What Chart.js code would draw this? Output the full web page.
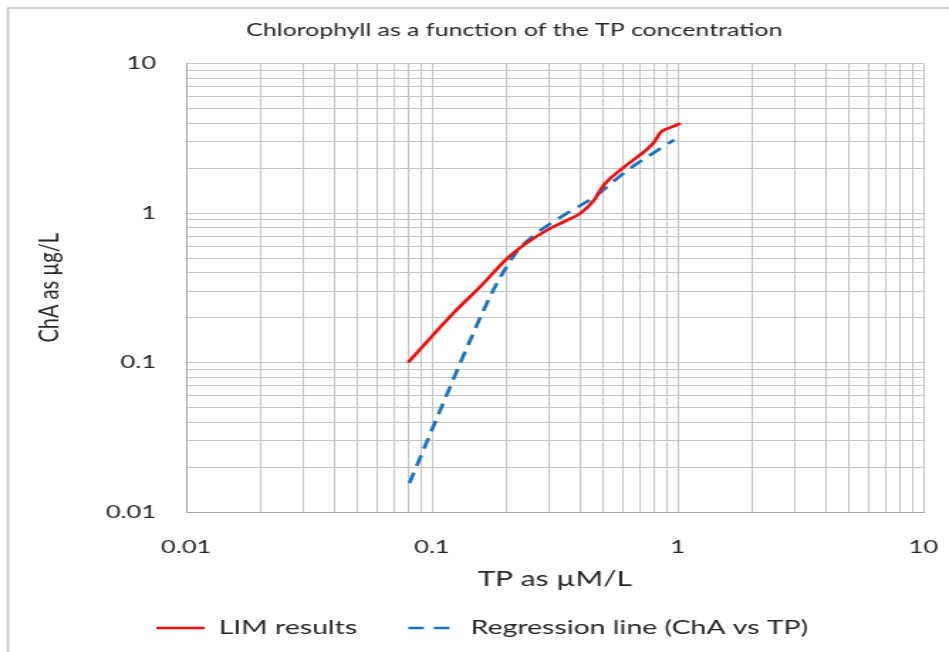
<!DOCTYPE html>
<html>
<head>
<meta charset="utf-8">
<script src="https://cdn.jsdelivr.net/npm/chart.js@4.4.1/dist/chart.umd.min.js"></script>
<style>
  html, body { margin: 0; padding: 0; background: #fff; overflow: hidden; }
</style>
</head>
<body>
<!-- the reference is an Excel chart stretched sideways, so the canvas is drawn narrow and widened by css -->
<canvas id="chart" width="668" height="652" style="display:block;width:949px;height:652px"></canvas>
<script>
// LIM results (red line)
const tpLim = [0.08, 0.099, 0.123, 0.158, 0.203, 0.237, 0.295, 0.356, 0.403, 0.457, 0.50, 0.605, 0.754, 0.802, 0.853, 0.937, 1.03];
const chaLim = [0.1, 0.147, 0.216, 0.324, 0.5, 0.613, 0.771, 0.898, 1.0, 1.22, 1.535, 2.03, 2.69, 2.98, 3.47, 3.74, 3.98];

// regression line (blue dashes)
const tpReg = [0.081, 0.09, 0.1, 0.115, 0.13, 0.15, 0.175, 0.2, 0.225, 0.26, 0.3, 0.356, 0.457, 0.624, 0.966];
const chaReg = [0.0156, 0.0235, 0.0355, 0.061, 0.098, 0.168, 0.29, 0.43, 0.57, 0.71, 0.84, 1.0, 1.28, 1.93, 3.09];

const seriesNames = ['LIM results', 'Regression line (ChA vs TP)'];

// log axes: labelled decades and the minor steps between them
const tickLabels = ['0.01', '0.1', '1', '10'];
const gridSteps = [1, 2, 3, 4, 5, 6, 7, 8, 9];

const gridValues = [];
tickLabels.slice(0, -1).forEach(d => {
  gridSteps.forEach(s => gridValues.push(parseFloat(d) * s));
});
gridValues.push(parseFloat(tickLabels[tickLabels.length - 1]));

const toPoints = (xs, ys) => xs.map((x, i) => ({ x: x, y: ys[i] }));

const labelFor = (value) => {
  const t = tickLabels.find(t => Math.abs(Math.log10(value / parseFloat(t))) < 1e-6);
  return t === undefined ? '' : t;
};

const setGrid = (scale) => {
  scale.ticks = gridValues.map(v => ({ value: v }));
};

const tickFont = { family: 'Lato', size: 18 };
const textFont = { family: 'Lato', size: 20 };
const textColor = '#262626';

const frame = {
  id: 'frame',
  beforeDraw(chart) {
    const ctx = chart.ctx;
    ctx.save();
    ctx.fillStyle = '#ffffff';
    ctx.fillRect(0, 0, chart.width, chart.height);
    ctx.strokeStyle = '#c6c6c6';
    ctx.lineWidth = 1.5;
    ctx.beginPath();
    ctx.moveTo(5.6, chart.height);
    ctx.lineTo(5.6, 8);
    ctx.lineTo(chart.width, 8);
    ctx.stroke();
    ctx.restore();
  }
};

// legend samples use the dataset line style (dash and width)
const legendLabels = (chart) => {
  return Chart.defaults.plugins.legend.labels.generateLabels(chart).map(item => {
    const ds = chart.data.datasets[item.datasetIndex];
    item.lineDash = ds.borderDash || [];
    item.lineWidth = ds.borderWidth;
    item.strokeStyle = ds.borderColor;
    return item;
  });
};

const config = {
  type: 'line',
  data: {
    datasets: [{
      label: seriesNames[0],
      data: toPoints(tpLim, chaLim),
      borderColor: '#f01010',
      backgroundColor: '#f01010',
      borderWidth: 2.7,
      pointRadius: 0,
      cubicInterpolationMode: 'monotone'
    }, {
      label: seriesNames[1],
      data: toPoints(tpReg, chaReg),
      borderColor: '#1874bd',
      backgroundColor: '#1874bd',
      borderWidth: 2.7,
      borderDash: [11, 7],
      pointRadius: 0,
      cubicInterpolationMode: 'monotone'
    }]
  },
  options: {
    responsive: false,
    animation: false,
    devicePixelRatio: 1,
    layout: { padding: { left: 74, right: 18, top: 0, bottom: 4 } },
    scales: {
      x: {
        type: 'logarithmic',
        min: 0.01,
        max: 10,
        afterBuildTicks: setGrid,
        afterFit: (scale) => {
          scale.height = 70;
          scale.paddingLeft = 0;
          scale.paddingRight = 0;
        },
        grid: { color: '#c4c4c4', lineWidth: 1, drawTicks: false },
        border: { color: '#a6a6a6', width: 1 },
        ticks: {
          autoSkip: false,
          maxRotation: 0,
          padding: 24,
          color: textColor,
          font: tickFont,
          callback: labelFor
        },
        title: {
          display: true,
          text: 'TP as µM/L',
          color: textColor,
          font: { family: 'Lato', size: 21 },
          padding: { top: 0, bottom: -10 }
        }
      },
      y: {
        type: 'logarithmic',
        min: 0.01,
        max: 10,
        afterBuildTicks: setGrid,
        afterFit: (scale) => { scale.width = 57; },
        grid: { color: '#c4c4c4', lineWidth: 1, drawTicks: false },
        border: { color: '#a6a6a6', width: 1 },
        ticks: {
          autoSkip: false,
          padding: 21,
          color: textColor,
          font: tickFont,
          callback: labelFor
        },
        title: {
          display: true,
          text: 'ChA as µg/L',
          color: textColor,
          font: textFont,
          padding: { top: -51, bottom: 0 }
        }
      }
    },
    plugins: {
      title: {
        display: true,
        text: 'Chlorophyll as a function of the TP concentration',
        color: textColor,
        font: { family: 'Lato', size: 17.5, weight: 'normal' },
        padding: { top: 19.8, bottom: 22.8 }
      },
      legend: {
        position: 'bottom',
        align: 'start',
        labels: {
          usePointStyle: true,
          pointStyle: 'line',
          pointStyleWidth: 34,
          padding: 36,
          color: textColor,
          font: textFont,
          generateLabels: legendLabels
        }
      },
      tooltip: { enabled: false }
    }
  },
  plugins: [frame]
};

const myChart = new Chart(document.getElementById('chart'), config);
</script>
</body>
</html>
